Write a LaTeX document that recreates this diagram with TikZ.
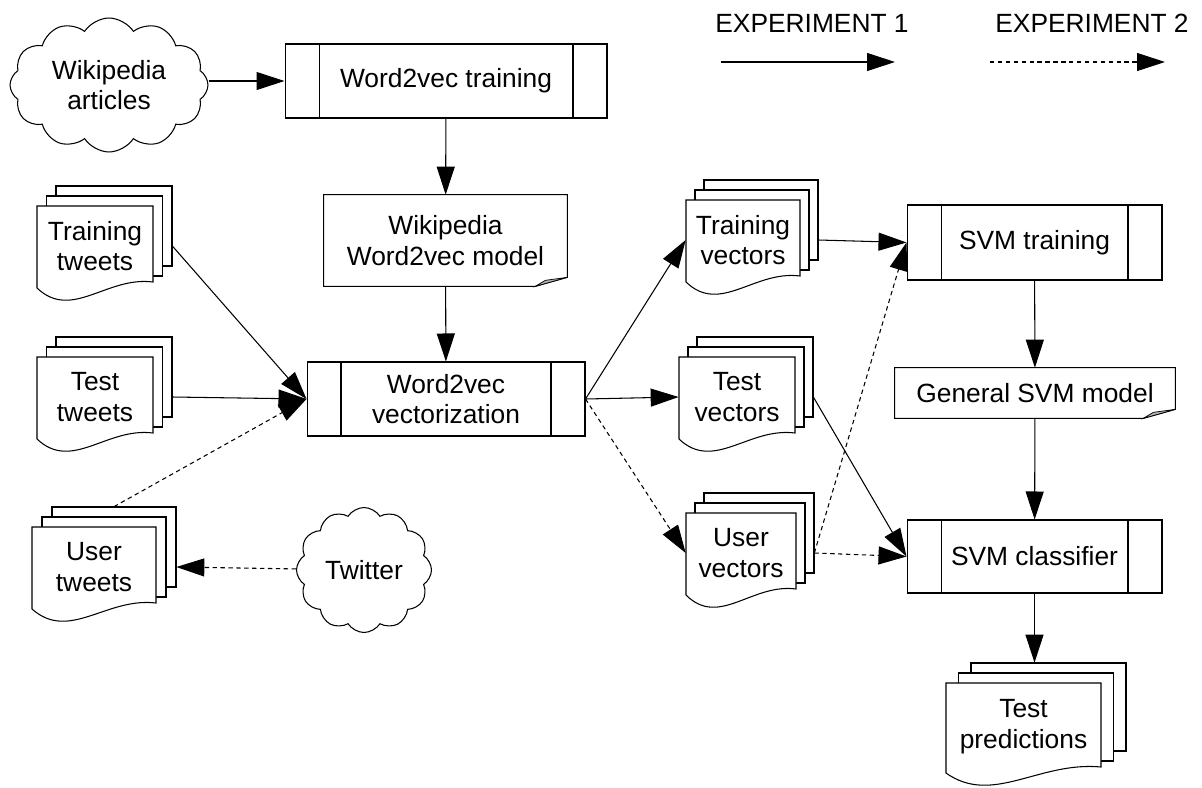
\documentclass[tikz,border=0pt]{standalone}
\usepackage{fontspec}
\setmainfont{Liberation Sans}
\usetikzlibrary{arrows.meta,calc,positioning,shapes.symbols}

\tikzset{
  flow/.style={draw, line width=0.6pt, -{Triangle[length=0.56cm,width=0.36cm]}},
  exptwo/.style={flow, dash pattern=on 2.5pt off 2pt},
  page/.style={draw, fill=white, line width=0.6pt},
  proc/.style={draw, line width=0.6pt, align=center, minimum height=1.48cm,
    path picture={
      \draw[line width=0.6pt] ([xshift=0.68cm]path picture bounding box.north west) -- ([xshift=0.68cm]path picture bounding box.south west);
      \draw[line width=0.6pt] ([xshift=-0.68cm]path picture bounding box.north east) -- ([xshift=-0.68cm]path picture bounding box.south east);
    }},
  cloudy/.style={cloud, draw, line width=0.6pt, cloud puffs=12, cloud puff arc=115,
    cloud ignores aspect, align=center},
  notebox/.style={align=center}
}

% stack of pages: name, left x, top y, width, height, step, text
\newcommand{\docstack}[7]{%
  \foreach \k in {2,1}
    \draw[page] (#2+\k*#6, #3-\k*10) rectangle ++(#4, #5);
  \draw[page] (#2, #3) -- ++(#4, 0) -- ++(0, #5-4)
    .. controls (#2+0.6*#4, #3+#5-10) and (#2+0.3*#4, #3+#5+35) .. (#2, #3+#5+2) -- cycle;
  \node[minimum width=#4*0.02cm, minimum height=#5*0.02cm, align=center] (#1) at (#2+0.5*#4, #3+0.5*#5) {#7};
  \coordinate (#1-e) at ($(#1.east)+(2*#6, 0)$);
  \coordinate (#1-n) at ($(#1.north)+(2*#6, -20)$);
}

% outline of a note with its corner turned
\newcommand{\notecorner}[1]{%
  \draw[line width=0.6pt] (#1.north west) -- (#1.north east) -- ($(#1.south east)+(0,-9)$)
    -- ($(#1.south east)+(-32,0)$) -- (#1.south west) -- cycle;
  \draw[line width=0.4pt, fill=black!30] ($(#1.south east)+(-32,0)$) -- ($(#1.south east)+(0,-9)$)
    -- ($(#1.south east)+(-22,-6)$) -- cycle;
}

\begin{document}
\begin{tikzpicture}[x=0.02cm, y=-0.02cm, font=\fontsize{15}{17.5}\selectfont]
  \path[fill=white, use as bounding box] (0,0) rectangle (1202,787);

  % legend
  \node (exp1) at (812,23) {EXPERIMENT 1};
  \node (exp2) at (1092,23) {EXPERIMENT 2};
  \coordinate (e1a) at (721,62);
  \coordinate (e1b) at (895,62);
  \coordinate (e2a) at (990,62);
  \coordinate (e2b) at (1165,62);
  \draw[flow] (e1a) -- (e1b);
  \draw[exptwo] (e2a) -- (e2b);

  % sources
  \node[cloudy, minimum width=3.96cm, minimum height=2.68cm] (wiki) at (109,85) {Wikipedia\\articles};
  \node[cloudy, minimum width=2.7cm, minimum height=2.5cm] (twit) at (364,570) {Twitter};
  \docstack{trtw}{37}{206}{116}{80}{9.5}{Training\\tweets}
  \docstack{tetw}{37}{357}{116}{80}{9.5}{Test\\tweets}
  \docstack{ustw}{32}{527}{124}{80}{10}{User\\tweets}

  % word2vec
  \node[proc, minimum width=6.44cm] (w2vt) at (446,81) {Word2vec training};
  \node[notebox, minimum width=4.86cm, minimum height=1.82cm] (w2vm) at (445.5,240.5) {Wikipedia\\Word2vec model};
  \notecorner{w2vm}
  \node[proc, minimum width=5.56cm] (w2vv) at (446,399) {Word2vec\\vectorization};

  % vectors
  \docstack{trve}{686}{200}{114}{80}{9}{Training\\vectors}
  \docstack{teve}{679}{357}{116}{80}{9}{Test\\vectors}
  \docstack{usve}{686}{513}{110}{80}{9}{User\\vectors}

  % svm
  \node[proc, minimum width=5.1cm, minimum height=1.5cm] (svmt) at (1034.5,242.5) {SVM training};
  \node[notebox, minimum width=5.6cm, minimum height=1cm] (gsvm) at (1035,393) {General SVM model};
  \notecorner{gsvm}
  \node[proc, minimum width=5.1cm, minimum height=1.46cm] (svmc) at (1034.5,556.5) {SVM classifier};
  \docstack{tepr}{946}{683}{155}{88}{12.5}{Test\\predictions}

  % connectors
  \draw[flow] (wiki.east |- w2vt.west) -- (w2vt.west);
  \draw[flow] (w2vt) -- (w2vm);
  \draw[flow] (w2vm) -- (w2vv);
  \draw[flow] (trtw-e) -- (w2vv.west);
  \draw[flow] (tetw-e) -- (w2vv.west);
  \draw[exptwo] (ustw-n) -- (w2vv.west);
  \draw[exptwo] (twit) -- (ustw-e);
  \draw[flow] (w2vv.east) -- (trve.west);
  \draw[flow] (w2vv.east) -- (teve.west);
  \draw[exptwo] (w2vv.east) -- (usve.west);
  \draw[flow] (trve-e) -- (svmt.west);
  \draw[exptwo] (usve-e) -- (svmt.west);
  \draw[flow] (teve-e) -- (svmc.west);
  \draw[exptwo] (usve-e) -- (svmc.west);
  \draw[flow] (svmt) -- (gsvm);
  \draw[flow] (gsvm) -- (svmc);
  \draw[flow] (svmc.south) -- (svmc.south |- tepr-n);
\end{tikzpicture}
\end{document}
